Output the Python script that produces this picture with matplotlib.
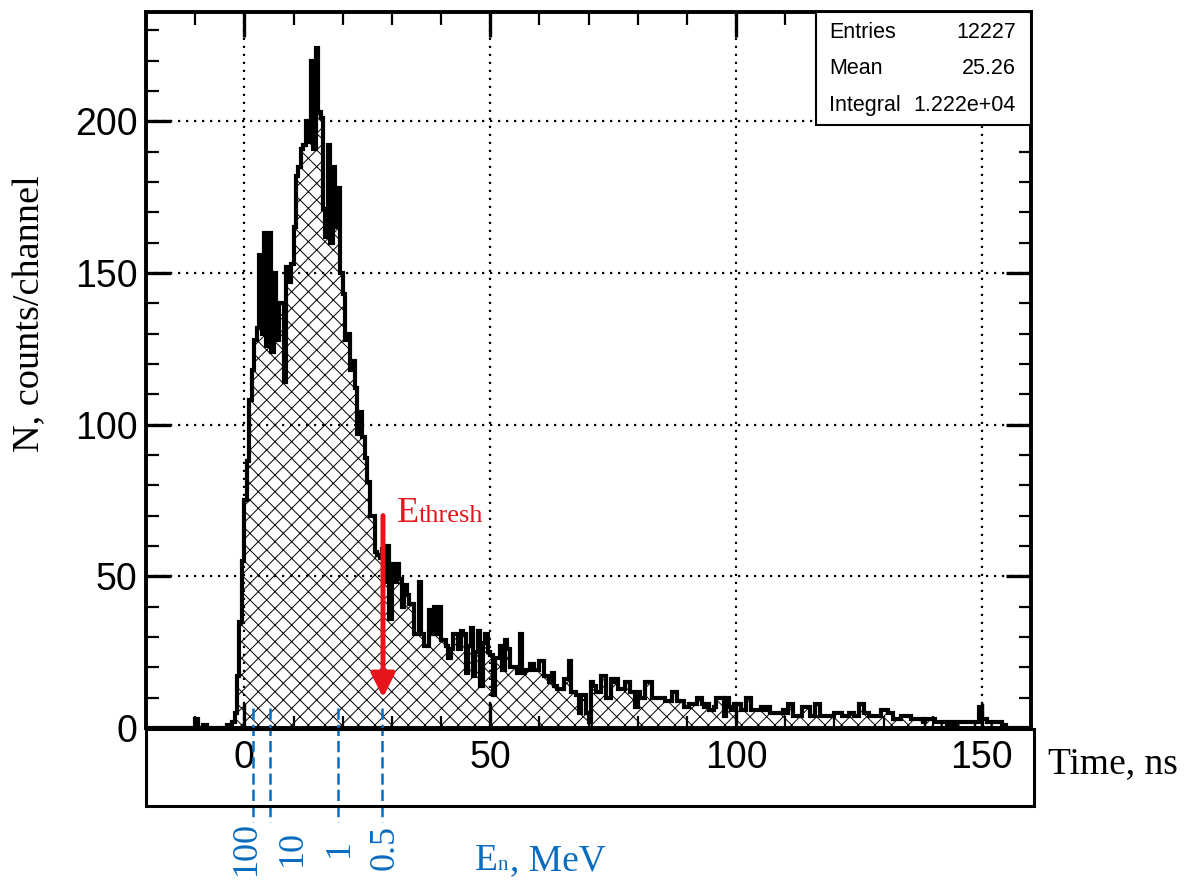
import numpy as np
import matplotlib
matplotlib.use('Agg')
import matplotlib.pyplot as plt
import matplotlib.transforms as mtransforms
from matplotlib.patches import Rectangle
from matplotlib.ticker import MultipleLocator

W, H = 1189, 882

# time-of-flight spectrum, 0.5 ns channels from -20 to 160 ns
t_start = -20.0
t_stop = 160.0
bin_width = 0.5

# counts per channel, one list for every 10 ns
counts_m20 = [0] * 20
counts_m10 = [3, 0, 0, 1, 1, 0, 0, 0, 0, 0, 0, 0, 0, 1, 1, 2, 5, 17, 35, 55]
counts_0 = [75, 88, 108, 118, 128, 132, 156, 130, 163, 126,
            163, 124, 150, 128, 140, 140, 114, 152, 147, 153]
counts_10 = [165, 182, 185, 191, 192, 200, 193, 220, 191, 224,
             203, 201, 171, 162, 192, 160, 185, 165, 178, 150]
counts_20 = [143, 128, 130, 118, 121, 112, 97, 104, 96, 89,
             81, 70, 70, 58, 57, 56, 59, 48, 60, 36]
counts_30 = [54, 48, 54, 49, 40, 47, 44, 41, 41, 31,
             31, 48, 31, 27, 27, 39, 31, 40, 31, 40]
counts_40 = [29, 29, 27, 23, 26, 31, 31, 26, 32, 31,
             18, 27, 33, 17, 25, 32, 14, 28, 31, 25]
counts_50 = [24, 11, 23, 23, 27, 19, 29, 26, 20, 20,
             20, 18, 31, 18, 19, 19, 21, 21, 19, 19]
counts_60 = [22, 22, 17, 17, 15, 18, 14, 13, 13, 13,
             16, 16, 22, 12, 12, 11, 5, 11, 11, 5]
counts_70 = [2, 15, 14, 12, 12, 17, 17, 10, 10, 16,
             15, 16, 13, 13, 13, 15, 15, 12, 12, 7]
counts_80 = [12, 10, 10, 15, 15, 15, 10, 10, 10, 10,
             10, 9, 9, 9, 12, 12, 9, 9, 9, 7]
counts_90 = [7, 8, 8, 8, 10, 10, 8, 7, 8, 6,
             6, 7, 10, 10, 10, 4, 10, 7, 6, 8]
counts_100 = [8, 8, 6, 6, 10, 10, 6, 6, 6, 6,
              7, 6, 7, 7, 5, 5, 5, 5, 5, 6]
counts_110 = [5, 8, 8, 4, 4, 4, 4, 7, 7, 7,
              4, 4, 8, 8, 4, 4, 4, 4, 4, 4]
counts_120 = [5, 5, 5, 4, 4, 4, 5, 5, 4, 4,
              8, 8, 5, 5, 4, 4, 4, 4, 4, 6]
counts_130 = [6, 6, 5, 5, 3, 3, 3, 4, 4, 4,
              4, 3, 3, 3, 3, 3, 2, 3, 3, 3]
counts_140 = [3, 2, 2, 2, 2, 2, 1, 2, 1, 2,
              2, 2, 2, 2, 2, 2, 2, 2, 2, 7]
counts_150 = [3, 3, 2, 2, 2, 2, 2, 2, 0, 1,
              0, 0, 0, 0, 0, 0, 0, 0, 0, 0]

counts = np.array(counts_m20 + counts_m10 + counts_0 + counts_10 + counts_20
                  + counts_30 + counts_40 + counts_50 + counts_60 + counts_70
                  + counts_80 + counts_90 + counts_100 + counts_110
                  + counts_120 + counts_130 + counts_140 + counts_150)
edges = t_start + bin_width * np.arange(len(counts) + 1)

# flight times of neutrons with these energies (MeV)
en_labels = ['100', '10', '1', '0.5']
en_times = [1.8, 5.3, 19.0, 28.1]
en_label_dx = [-7, 22, 2, 3]   # pixel shift of each label from its line

# threshold marker
thresh_time = 28.2
thresh_from, thresh_to = 70, 10

stat_names = ['Entries', 'Mean', 'Integral']
stat_values = ['12227', '25.26', '1.222e+04']

blue = '#0b6cbf'
red = '#e8141c'
serif = 'Liberation Serif'

plt.rcParams['font.family'] = 'Liberation Sans'
plt.rcParams['hatch.color'] = 'black'
plt.rcParams['hatch.linewidth'] = 0.7


def fx(px):
    return px / W


def fy(py):
    return 1 - py / H


fig = plt.figure(figsize=(W / 100, H / 100), dpi=100)
ax = fig.add_axes([fx(146), fy(728), (1031 - 146) / W, (728 - 12) / H])
ax.set_xlim(t_start, t_stop)
ax.set_ylim(0, 236)

ax.stairs(counts, edges, fill=True, facecolor='none', edgecolor='black',
          hatch='xx', linewidth=0, zorder=1)
ax.stairs(counts, edges, color='black', linewidth=3.0, zorder=2)

ax.xaxis.set_major_locator(MultipleLocator(50))
ax.xaxis.set_minor_locator(MultipleLocator(10))
ax.yaxis.set_major_locator(MultipleLocator(50))
ax.yaxis.set_minor_locator(MultipleLocator(10))
ax.grid(True, which='major', color='black', linestyle=(0, (1, 2.6)), linewidth=1.6)
ax.tick_params(which='both', direction='in', top=True, right=True)
ax.tick_params(which='major', length=18, width=2.4, labelsize=27)
ax.tick_params(which='minor', length=9, width=1.6)
ax.tick_params(axis='x', pad=9)
ax.tick_params(axis='y', pad=6)
for sp in ax.spines.values():
    sp.set_linewidth(2.8)

# strip under the axis that holds the time labels
fig.add_artist(Rectangle((fx(146), fy(806)), (1034 - 146) / W, (806 - 729) / H,
                         transform=fig.transFigure, fill=False,
                         edgecolor='black', linewidth=2.2))

# statistics box
ax.add_patch(Rectangle((0.757, 0.842), 0.243, 0.158, transform=ax.transAxes,
                       facecolor='white', edgecolor='black', linewidth=1.5,
                       zorder=5, clip_on=False))
for i, (name, val) in enumerate(zip(stat_names, stat_values)):
    yc = 0.972 - 0.051 * i
    ax.text(0.7715, yc, name, transform=ax.transAxes, ha='left', va='center',
            fontsize=15.5, zorder=6)
    ax.text(0.983, yc, val, transform=ax.transAxes, ha='right', va='center',
            fontsize=15.5, zorder=6)

# energy markers below the histogram
trans = mtransforms.blended_transform_factory(ax.transData, ax.transAxes)
for t, lab, dx in zip(en_times, en_labels, en_label_dx):
    ax.plot([t, t], [0.028, -0.131], transform=trans, color=blue, lw=1.8,
            ls=(0, (4.5, 2)), clip_on=False, zorder=4)
    ax.annotate(lab, xy=(t, 0), xycoords=trans, xytext=(dx, -120),
                textcoords='offset pixels', rotation=90, ha='center',
                va='center', fontsize=26, color=blue, family=serif,
                annotation_clip=False)

fig.text(fx(475), fy(870), 'E', fontsize=27, color=blue, family=serif,
         ha='left', va='baseline')
fig.text(fx(498), fy(870), 'n', fontsize=15, color=blue, family=serif,
         ha='left', va='baseline')
fig.text(fx(510), fy(870), ', MeV', fontsize=27, color=blue, family=serif,
         ha='left', va='baseline')

# threshold arrow
ax.annotate('', xy=(thresh_time, thresh_to), xytext=(thresh_time, thresh_from),
            arrowprops=dict(arrowstyle='-|>', color=red, lw=3.6,
                            mutation_scale=36, shrinkA=0, shrinkB=0),
            zorder=6)
fig.text(fx(397), fy(522), 'E', fontsize=26, color=red, family=serif,
         ha='left', va='baseline')
fig.text(fx(419), fy(522), 'thresh', fontsize=19, color=red, family=serif,
         ha='left', va='baseline')

# axis titles
fig.text(fx(30), fy(314), 'N, counts/channel', rotation=90, fontsize=27.5,
         family=serif, ha='center', va='center')
fig.text(fx(1048), fy(764), 'Time, ns', fontsize=27, family=serif,
         ha='left', va='center')

fig.savefig('out.png', dpi=100)
